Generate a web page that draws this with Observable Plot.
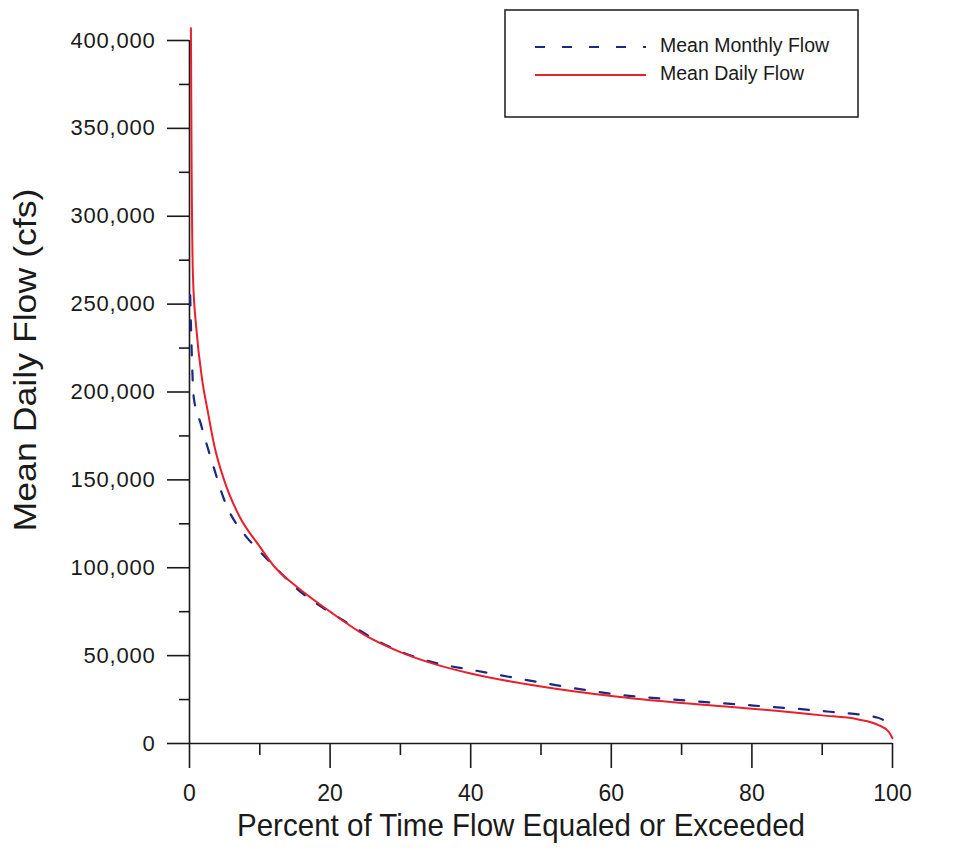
<!DOCTYPE html>
<html>
<head>
<meta charset="utf-8">
<script src="https://cdn.jsdelivr.net/npm/d3@7"></script>
<script src="https://cdn.jsdelivr.net/npm/@observablehq/plot@0.6"></script>
<style>
  html, body { margin: 0; padding: 0; background: #fff; }
  #chart { position: relative; width: 959px; height: 848px; }
  svg { font-family: "Liberation Sans", Arial, Helvetica, sans-serif; }
</style>
</head>
<body>
<div id="chart"></div>
<script>
// Percent of time flow equaled or exceeded
const dailyPct  = [0.2, 0.3, 0.5, 1.0, 1.8, 2.6, 3.5, 5, 7, 10, 12, 15, 20, 25, 30, 35, 40, 50, 60, 70, 80, 90, 95, 98, 99.5, 100];
const dailyFlow = [407000, 330000, 265000, 235000, 207000, 189000, 170000, 149000, 130000, 112000, 101000, 90000, 75000, 61500, 52000, 45000, 39800, 32400, 27000, 23000, 19800, 16000, 13800, 10500, 6500, 3000];

const monthlyPct  = [0.1, 0.3, 0.6, 1.6, 3.3, 5.1, 8, 9.6, 12, 15.3, 21.9, 29, 35.3, 40, 50, 61, 69.4, 80.2, 90.7, 97.8, 100];
const monthlyFlow = [255000, 225000, 197000, 182000, 159000, 137000, 118000, 111000, 101000, 88000, 70000, 54000, 45500, 42000, 34700, 27800, 24800, 21600, 18200, 14800, 10200];

const xMajor = [0, 20, 40, 60, 80, 100];
const xMinor = [10, 30, 50, 70, 90];
const yMajor = [0, 50000, 100000, 150000, 200000, 250000, 300000, 350000, 400000];
const yMinor = [25000, 75000, 125000, 175000, 225000, 275000, 325000, 375000];

const seriesNames = ["Mean Monthly Flow", "Mean Daily Flow"];
const daily = dailyPct.map((p, i) => ({p, q: dailyFlow[i]}));
const monthly = monthlyPct.map((p, i) => ({p, q: monthlyFlow[i]}));

const RED = "#e8202c";
const BLUE = "#1b2a80";
const INK = "#1a1a1a";

const plot = Plot.plot({
  width: 959,
  height: 848,
  marginLeft: 189,
  marginRight: 67,
  marginTop: 40,
  marginBottom: 105,
  style: {fontFamily: '"Liberation Sans", Arial, Helvetica, sans-serif', background: "#fff", color: INK},
  x: {domain: [0, 100]},
  y: {domain: [0, 400000]},
  marks: [
    Plot.axisY(yMajor, {tickSize: 22, tickPadding: 12, tickFormat: d3.format(","), fontSize: 22, label: null, stroke: INK, strokeWidth: 1.6}),
    Plot.axisY(yMinor, {tickSize: 10, tickFormat: () => "", label: null, stroke: INK, strokeWidth: 1.6}),
    Plot.axisX(xMajor, {tickSize: 25, tickPadding: 16, fontSize: 23, label: null, stroke: INK, strokeWidth: 1.6}),
    Plot.axisX(xMinor, {tickSize: 12, tickFormat: () => "", label: null, stroke: INK, strokeWidth: 1.6}),
    Plot.ruleX([0], {y1: 0, y2: 400000, stroke: INK, strokeWidth: 1.6}),
    Plot.ruleY([0], {x1: 0, x2: 100, stroke: INK, strokeWidth: 1.6}),
    Plot.line(monthly, {x: "p", y: "q", stroke: BLUE, strokeWidth: 2.2, strokeDasharray: "10,15", curve: "monotone-x"}),
    Plot.line(daily, {x: "p", y: "q", stroke: RED, strokeWidth: 2, curve: "monotone-x"})
  ]
});

document.getElementById("chart").appendChild(plot);

const svg = d3.select(plot);
// widen y tick labels slightly (reference glyphs are broad)
svg.selectAll('[aria-label="y-axis tick label"] text').attr("letter-spacing", "0.8");

// Axis titles
svg.append("text")
  .attr("transform", "translate(28,360) rotate(-90)")
  .attr("text-anchor", "middle")
  .attr("dominant-baseline", "middle")
  .attr("font-size", 32)
  .attr("textLength", 343)
  .attr("lengthAdjust", "spacingAndGlyphs")
  .attr("fill", INK)
  .text("Mean Daily Flow (cfs)");
svg.append("text")
  .attr("x", 521).attr("y", 828)
  .attr("text-anchor", "middle")
  .attr("dominant-baseline", "middle")
  .attr("font-size", 32)
  .attr("textLength", 568)
  .attr("lengthAdjust", "spacingAndGlyphs")
  .attr("fill", INK)
  .text("Percent of Time Flow Equaled or Exceeded");

// Legend
const lg = svg.append("g");
lg.append("rect").attr("x", 505).attr("y", 10).attr("width", 353).attr("height", 107)
  .attr("fill", "#fff").attr("stroke", INK).attr("stroke-width", 1.5);
const items = [
  {name: seriesNames[0], color: BLUE, dash: "10,17", y: 47},
  {name: seriesNames[1], color: RED, dash: null, y: 75}
];
items.forEach(it => {
  lg.append("line").attr("x1", 535).attr("x2", 646).attr("y1", it.y).attr("y2", it.y)
    .attr("stroke", it.color).attr("stroke-width", 1.8)
    .attr("stroke-dasharray", it.dash);
  lg.append("text").attr("x", 660).attr("y", it.y)
    .attr("text-anchor", "start")
    .attr("dominant-baseline", "middle")
    .attr("font-size", 19.5).attr("fill", INK).text(it.name);
});
</script>
</body>
</html>
